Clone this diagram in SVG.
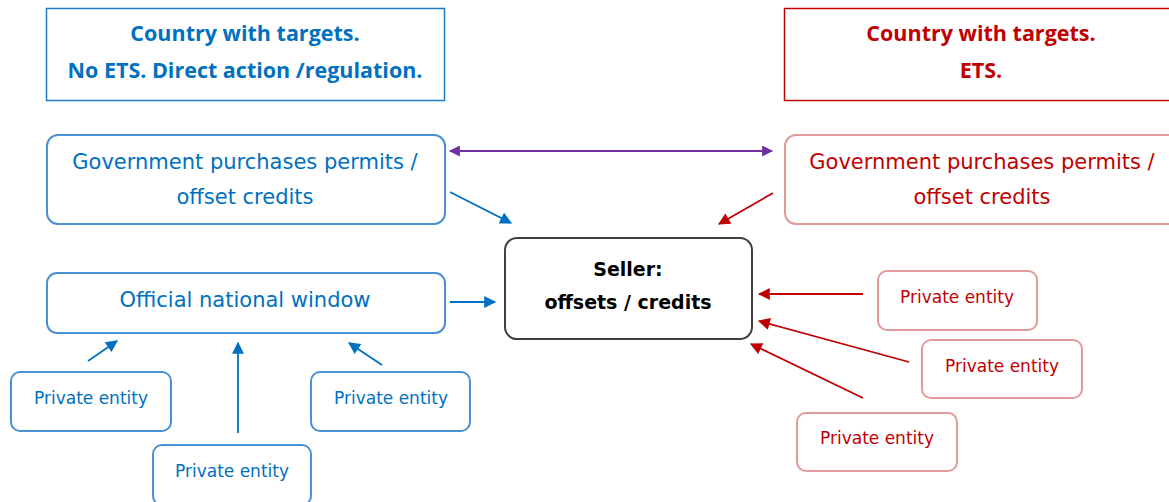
<svg xmlns="http://www.w3.org/2000/svg" width="1169" height="502" viewBox="0 0 1169 502">
<style>
.title{font-family:"Open Sans","DejaVu Sans",sans-serif;font-weight:bold;font-size:21.5px;text-anchor:middle}
.bt{fill:#0070c0}.rt{fill:#c00000}
.lbl{font-family:"DejaVu Sans",sans-serif;font-size:21px;text-anchor:middle}
.pe{font-family:"DejaVu Sans",sans-serif;font-size:17px;text-anchor:middle}
.bn{fill:#fff;stroke:#4a90d2;stroke-width:2}
.rn{fill:#fff;stroke:#e29a9a;stroke-width:2}
.bl{stroke:#0070c0;stroke-width:1.8;fill:none}
.rl{stroke:#c00000;stroke-width:1.8;fill:none}
.pl{stroke:#7030a0;stroke-width:1.8;fill:none}
</style>
<defs>
<marker id="ab" viewBox="0 0 10 10" refX="9" refY="5" markerWidth="13" markerHeight="12" markerUnits="userSpaceOnUse" orient="auto"><path d="M0,0L10,5L0,10z" fill="#0070c0"/></marker>
<marker id="ar" viewBox="0 0 10 10" refX="9" refY="5" markerWidth="13" markerHeight="12" markerUnits="userSpaceOnUse" orient="auto"><path d="M0,0L10,5L0,10z" fill="#c00000"/></marker>
<marker id="ap" viewBox="0 0 10 10" refX="9" refY="5" markerWidth="12" markerHeight="11" markerUnits="userSpaceOnUse" orient="auto-start-reverse"><path d="M0,0L10,5L0,10z" fill="#7030a0"/></marker>
</defs>
<rect width="1169" height="502" fill="#fff"/>
<g id="title-left">
<rect x="46.5" y="8.5" width="398" height="92" fill="#fff" stroke="#1f7ac4" stroke-width="1.5"/>
<text class="title bt" x="245" y="41">Country with targets.</text>
<text class="title bt" x="245" y="78">No ETS. Direct action /regulation.</text>
</g>
<g id="title-right">
<rect x="784.5" y="8.5" width="400" height="92" fill="#fff" stroke="#c00000" stroke-width="1.5"/>
<text class="title rt" x="981" y="41">Country with targets.</text>
<text class="title rt" x="981" y="78">ETS.</text>
</g>
<g id="gov-left">
<rect class="bn" x="47" y="135" width="398" height="89" rx="11"/>
<text class="lbl bt" x="245" y="169">Government purchases permits /</text>
<text class="lbl bt" x="245" y="204">offset credits</text>
</g>
<g id="gov-right">
<rect class="rn" x="785" y="135" width="400" height="89" rx="11"/>
<text class="lbl rt" x="982" y="169">Government purchases permits /</text>
<text class="lbl rt" x="982" y="204">offset credits</text>
</g>
<g id="seller">
<rect x="505" y="238" width="247" height="101" rx="12" fill="#fff" stroke="#404040" stroke-width="2"/>
<text x="628" y="276" font-family="DejaVu Sans,sans-serif" font-weight="bold" font-size="19" text-anchor="middle" fill="#000">Seller:</text>
<text x="628" y="309" font-family="DejaVu Sans,sans-serif" font-weight="bold" font-size="19" text-anchor="middle" fill="#000">offsets / credits</text>
</g>
<g id="window">
<rect class="bn" x="47" y="273" width="398" height="60" rx="10"/>
<text class="lbl bt" x="245" y="307">Official national window</text>
</g>
<g id="pe-l1"><rect class="bn" x="11" y="372" width="160" height="59" rx="9"/><text class="pe bt" x="91" y="404">Private entity</text></g>
<g id="pe-l2"><rect class="bn" x="153" y="445" width="158" height="60" rx="9"/><text class="pe bt" x="232" y="477">Private entity</text></g>
<g id="pe-l3"><rect class="bn" x="311" y="372" width="159" height="59" rx="9"/><text class="pe bt" x="391" y="404">Private entity</text></g>
<g id="pe-r1"><rect class="rn" x="878" y="271" width="159" height="59" rx="9"/><text class="pe rt" x="957" y="303">Private entity</text></g>
<g id="pe-r2"><rect class="rn" x="922" y="340" width="160" height="58" rx="9"/><text class="pe rt" x="1002" y="372">Private entity</text></g>
<g id="pe-r3"><rect class="rn" x="797" y="413" width="160" height="58" rx="9"/><text class="pe rt" x="877" y="444">Private entity</text></g>
<g id="connectors">
<line class="pl" x1="450" y1="151" x2="772" y2="151" marker-start="url(#ap)" marker-end="url(#ap)"/>
<line class="bl" x1="450" y1="192" x2="511" y2="223" marker-end="url(#ab)"/>
<line class="bl" x1="450" y1="302" x2="495" y2="302" marker-end="url(#ab)"/>
<line class="rl" x1="773" y1="193" x2="719" y2="224" marker-end="url(#ar)"/>
<line class="bl" x1="88" y1="361" x2="117" y2="341" marker-end="url(#ab)"/>
<line class="bl" x1="238" y1="433" x2="238" y2="343" marker-end="url(#ab)"/>
<line class="bl" x1="382" y1="365" x2="349" y2="343" marker-end="url(#ab)"/>
<line class="rl" x1="863" y1="294" x2="759" y2="294" marker-end="url(#ar)"/>
<line class="rl" x1="909" y1="362" x2="759" y2="321" marker-end="url(#ar)"/>
<line class="rl" x1="863" y1="398" x2="751" y2="344" marker-end="url(#ar)"/>
</g>
</svg>
